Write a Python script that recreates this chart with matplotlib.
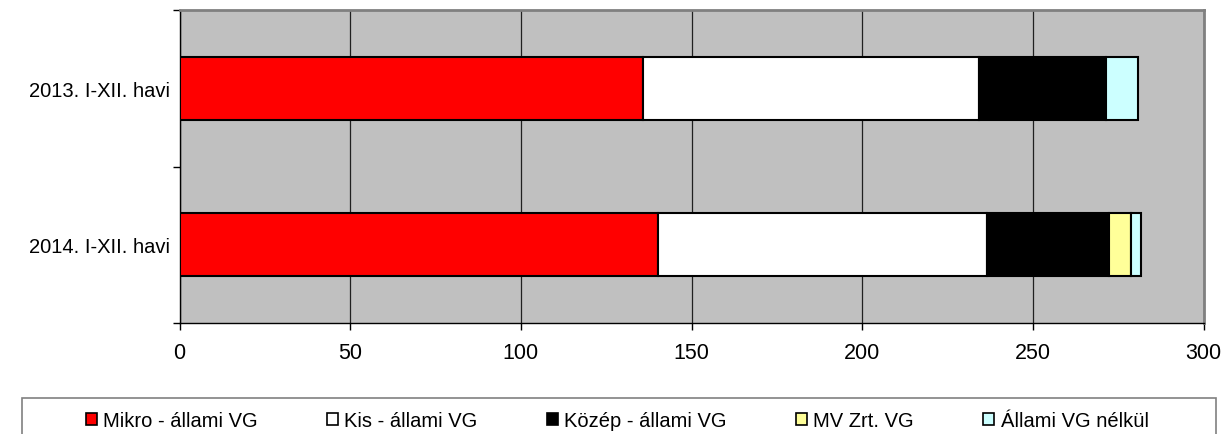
import matplotlib
matplotlib.use("Agg")
import matplotlib.pyplot as plt
from matplotlib.patches import Rectangle
import numpy as np

plt.rcParams['font.family'] = ['Liberation Sans', 'DejaVu Sans']

categories = ["2013. I-XII. havi", "2014. I-XII. havi"]
series_names = ["Mikro - állami VG", "Kis - állami VG", "Közép - állami VG",
                "MV Zrt. VG", "Állami VG nélkül"]
mikro = [135.8, 140.3]
kis = [98.4, 96.2]
kozep = [37.1, 35.9]
mv = [0.0, 6.3]
nelkul = [9.5, 3.1]
colors = ["#FF0000", "#FFFFFF", "#000000", "#FFFF99", "#CCFFFF"]
xticks = [0, 50, 100, 150, 200, 250, 300]

W, H = 1227, 435
fig = plt.figure(figsize=(W / 100, H / 100), dpi=100)
ax = fig.add_axes([179.5 / W, 1 - 324 / H, (1203.5 - 179.5) / W, (324 - 11) / H])
ax.set_facecolor("#C0C0C0")

y = np.arange(len(categories))
left = np.zeros(len(categories))
handles = []
for vals, name, c in zip([mikro, kis, kozep, mv, nelkul], series_names, colors):
    vals = np.array(vals)
    b = ax.barh(y, vals, left=left, height=0.4, color=c, edgecolor="black",
                linewidth=1.5, label=name, zorder=3)
    handles.append(b)
    left = left + vals

ax.set_xlim(0, 300)
ax.set_ylim(1.5, -0.5)
ax.set_xticks(xticks)
ax.set_xticklabels([str(t) for t in xticks], fontsize=15.5)
ax.xaxis.grid(True, color="#202020", linewidth=0.9, zorder=1)
ax.set_axisbelow(True)

ax.set_yticks([-0.5, 0.5, 1.5])
ax.set_yticklabels([])
ax.set_yticks(y, minor=True)
ax.set_yticklabels(categories, minor=True, fontsize=14.5)
ax.tick_params(axis="y", which="minor", length=0, pad=6.8)
ax.tick_params(axis="y", which="major", direction="out", length=5, width=1)
ax.tick_params(axis="x", direction="out", length=5, width=1, pad=8.5)

for s in ["left", "bottom"]:
    ax.spines[s].set_color("black")
    ax.spines[s].set_linewidth(1.0)
for s in ["top", "right"]:
    ax.spines[s].set_color("#808080")
    ax.spines[s].set_linewidth(2.0)

# legend frame
fig.patches.append(Rectangle((22 / W, -0.05), (1216 - 22) / W, (1 - 399 / H) + 0.05,
                             transform=fig.transFigure, facecolor="white",
                             edgecolor="#808080", linewidth=1.2, zorder=0))
leg = fig.legend(handles=handles, labels=series_names, loc="center left",
                 bbox_to_anchor=(86 / W, 1 - 422 / H), ncol=5, frameon=False,
                 fontsize=14.5, handlelength=0.55, handleheight=0.55,
                 handletextpad=0.3, columnspacing=3.45, borderpad=0,
                 borderaxespad=0)
for h in leg.legend_handles:
    h.set_linewidth(1.2)
    h.set_edgecolor("black")

fig.savefig("out.png", dpi=100)
